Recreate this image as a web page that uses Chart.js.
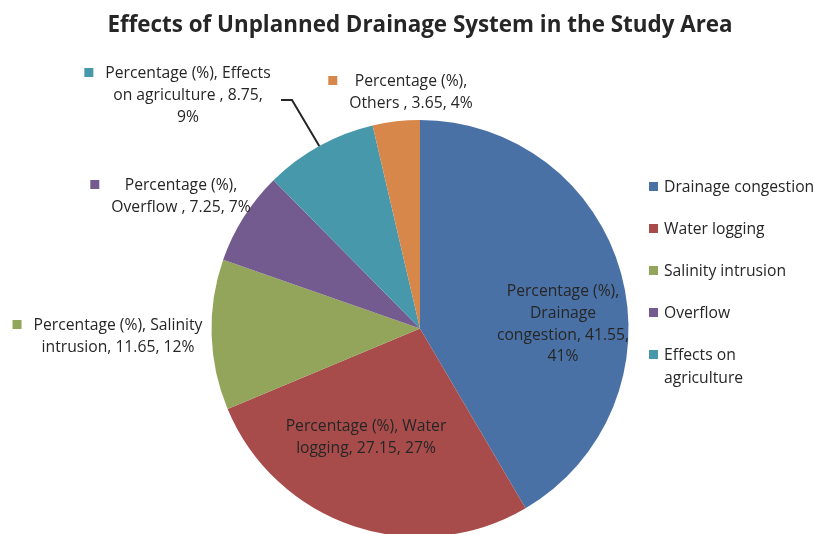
<!DOCTYPE html>
<html>
<head>
<meta charset="utf-8">
<script src="https://cdn.jsdelivr.net/npm/chart.js@4.4.0/dist/chart.umd.min.js"></script>
<style>
  html, body { margin: 0; padding: 0; background: #fff; overflow: hidden; }
  #wrap { position: relative; width: 814px; height: 560px; }
</style>
</head>
<body>
<div id="wrap"><canvas id="chart" width="814" height="560"></canvas></div>
<script>
const categories = ['Drainage congestion', 'Water logging', 'Salinity intrusion', 'Overflow ', 'Effects on agriculture ', 'Others '];
const percentages = [41.55, 27.15, 11.65, 7.25, 8.75, 3.65];
const roundedPct = ['41%', '27%', '12%', '7%', '9%', '4%'];
const sliceColors = ['#4A71A5', '#A84C4B', '#93A55B', '#745B8F', '#4898AB', '#D8874A'];

const FONT = '"Open Sans", sans-serif';
const TEXT_SIZE = 15.7;

// label blocks: center x of text block, center y of first line, wrap width
const labelLayout = [
    { cx: 563, y: 292, wrap: 140 },
    { cx: 366, y: 427, wrap: 170 },
    { cx: 118, y: 326, wrap: 175, key: true },
    { cx: 181, y: 186, wrap: 148, key: true },
    { cx: 188, y: 74, wrap: 172, key: true, leader: [[281, 100], [292, 100]] },
    { cx: 411, y: 82, wrap: 130, key: true }
];

function wrapText(ctx, text, width) {
    const words = text.split(' ');
    const lines = [];
    let cur = '';
    words.forEach(w => {
        const test = cur ? cur + ' ' + w : w;
        if (cur && ctx.measureText(test).width > width) {
            lines.push(cur);
            cur = w;
        } else {
            cur = test;
        }
    });
    if (cur) lines.push(cur);
    return lines;
}

const labelPlugin = {
    id: 'sliceLabels',
    afterDatasetsDraw(chart) {
        const ctx = chart.ctx;
        const arcs = chart.getDatasetMeta(0).data;
        ctx.save();
        ctx.font = TEXT_SIZE + 'px ' + FONT;
        ctx.fillStyle = '#262626';
        ctx.textBaseline = 'middle';
        ctx.textAlign = 'center';
        labelLayout.forEach((lay, i) => {
            const text = 'Percentage (%), ' + categories[i] + ', ' + percentages[i] + ', ' + roundedPct[i];
            const lines = wrapText(ctx, text, lay.wrap);
            const widest = Math.max(...lines.map(l => ctx.measureText(l).width));
            lines.forEach((l, j) => ctx.fillText(l, lay.cx, lay.y + j * 21.6));
            if (lay.key) {
                const left = lay.cx - widest / 2;
                ctx.fillStyle = sliceColors[i];
                ctx.fillRect(left - 21, lay.y - 6, 9, 9);
                ctx.fillStyle = '#262626';
            }
            if (lay.leader) {
                const arc = arcs[i];
                const mid = (arc.startAngle + arc.endAngle) / 2;
                ctx.beginPath();
                ctx.moveTo(lay.leader[0][0], lay.leader[0][1]);
                ctx.lineTo(lay.leader[1][0], lay.leader[1][1]);
                ctx.lineTo(arc.x + Math.cos(mid) * arc.outerRadius, arc.y + Math.sin(mid) * arc.outerRadius);
                ctx.strokeStyle = '#262626';
                ctx.lineWidth = 2;
                ctx.stroke();
            }
        });

        // legend on the right, items that don't fit are dropped
        ctx.textAlign = 'left';
        let y = 188;
        categories.forEach((c, i) => {
            const lines = wrapText(ctx, c.trim(), 153);
            if (y + (lines.length - 1) * 23 > 400) return;
            ctx.fillStyle = sliceColors[i];
            ctx.fillRect(649, y - 6, 9, 9);
            ctx.fillStyle = '#262626';
            lines.forEach((l, j) => ctx.fillText(l, 664, y + j * 23));
            y += 42 + (lines.length - 1) * 23;
        });
        ctx.restore();
    }
};

new Chart(document.getElementById('chart'), {
    type: 'pie',
    data: {
        labels: categories,
        datasets: [{
            data: percentages,
            backgroundColor: sliceColors,
            borderWidth: 0
        }]
    },
    options: {
        responsive: false,
        animation: false,
        devicePixelRatio: 1,
        // pie gets centred at x=420 with radius 208 (area 26..814 wide, 416 high)
        layout: { padding: { top: 0, left: 26, right: 0, bottom: 23 } },
        plugins: {
            legend: { display: false },
            tooltip: { enabled: false },
            title: {
                display: true,
                text: 'Effects of Unplanned Drainage System in the Study Area',
                color: '#262626',
                font: { family: FONT, size: 22.4, weight: 'bold', lineHeight: 1.2 },
                padding: { top: 12, bottom: 81.1 }
            }
        }
    },
    plugins: [labelPlugin]
});
</script>
</body>
</html>
